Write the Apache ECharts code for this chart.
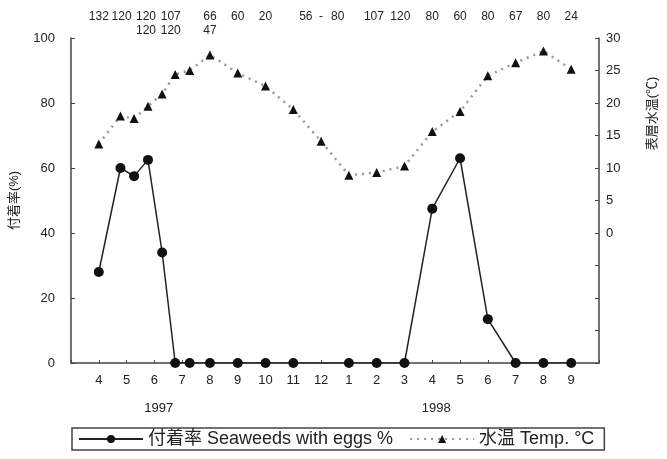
<!DOCTYPE html>
<html>
<head>
<meta charset="utf-8">
<script src="https://cdn.jsdelivr.net/npm/echarts@6/dist/echarts.min.js"></script>
<style>
  html, body { margin: 0; padding: 0; background: #fff; }
  #chart { width: 667px; height: 459px; }
</style>
</head>
<body>
<div id="chart"></div>
<script>
// x positions are month indexes counted from April 1997 (0) to September 1998 (17)
const monthLabels = ['4', '5', '6', '7', '8', '9', '10', '11', '12', '1', '2', '3', '4', '5', '6', '7', '8', '9'];
const yearX = [2.16, 12.14];
const yearLabels = ['1997', '1998'];

// 付着率 (%)
const pctX = [0, 0.78, 1.27, 1.77, 2.28, 2.75, 3.27, 4, 5, 6, 7, 9, 10, 11, 12, 13, 14, 15, 16, 17];
const pctVal = [28, 60, 57.5, 62.5, 34, 0, 0, 0, 0, 0, 0, 0, 0, 0, 47.5, 63, 13.5, 0, 0, 0];

// 水温 (℃)
const tempX = [0, 0.78, 1.27, 1.77, 2.28, 2.75, 3.27, 4, 5, 6, 7, 8, 9, 10, 11, 12, 13, 14, 15, 16, 17];
const tempVal = [13.7, 18.0, 17.6, 19.5, 21.4, 24.4, 25.0, 27.4, 24.6, 22.6, 19.0, 14.1, 8.9, 9.3, 10.3, 15.6, 18.7, 24.2, 26.2, 28.0, 25.2];

// sample numbers written above the chart
const nRow1X = [0, 0.82, 1.7, 2.59, 4, 5, 6, 7.45, 8.0, 8.6, 9.9, 10.85, 12, 13, 14, 15, 16, 17];
const nRow1 = ['132', '120', '120', '107', '66', '60', '20', '56', '-', '80', '107', '120', '80', '60', '80', '67', '80', '24'];
const nRow2X = [1.7, 2.59, 4];
const nRow2 = ['120', '120', '47'];

const FONT = 'Liberation Sans, Noto Sans CJK JP, sans-serif';
const INK = '#222';
const AXIS = '#444';

const chart = echarts.init(document.getElementById('chart'));

const baseX = { type: 'value', min: -1, max: 18, gridIndex: 0, splitLine: { show: false } };

chart.setOption({
  animation: false,
  textStyle: { fontFamily: FONT, color: INK },
  grid: { left: 71, right: 61, top: 38, bottom: 96 },
  legend: {
    left: 72,
    top: 428,
    padding: [2, 10, 2, 6],
    borderColor: AXIS,
    borderWidth: 1.5,
    itemWidth: 64,
    itemHeight: 10,
    itemGap: 16,
    textStyle: { fontFamily: FONT, fontSize: 18, color: INK },
    data: ['付着率 Seaweeds with eggs %', '水温 Temp. °C']
  },
  xAxis: [
    Object.assign({}, baseX, {
      position: 'bottom',
      interval: 1,
      axisLine: { onZero: false, lineStyle: { color: AXIS, width: 1.5 } },
      axisTick: { inside: true, length: 3, lineStyle: { color: AXIS } },
      axisLabel: {
        margin: 11,
        fontSize: 13,
        color: INK,
        formatter: v => (v >= 0 && v < monthLabels.length ? monthLabels[v] : '')
      }
    }),
    Object.assign({}, baseX, {
      position: 'bottom',
      axisLine: { show: false, onZero: false },
      axisTick: { show: false },
      axisLabel: {
        margin: 39,
        fontSize: 13,
        color: INK,
        customValues: yearX,
        formatter: (v, i) => yearLabels[yearX.indexOf(v)] ?? yearLabels[i]
      }
    }),
    Object.assign({}, baseX, {
      position: 'top',
      axisLine: { show: false, onZero: false },
      axisTick: { show: false },
      axisLabel: {
        margin: 15,
        fontSize: 12,
        color: INK,
        customValues: nRow1X,
        formatter: (v, i) => nRow1[nRow1X.indexOf(v)] ?? nRow1[i]
      }
    }),
    Object.assign({}, baseX, {
      position: 'top',
      axisLine: { show: false, onZero: false },
      axisTick: { show: false },
      axisLabel: {
        margin: 1,
        fontSize: 12,
        color: INK,
        customValues: nRow2X,
        formatter: (v, i) => nRow2[nRow2X.indexOf(v)] ?? nRow2[i]
      }
    })
  ],
  yAxis: [
    {
      type: 'value',
      min: 0,
      max: 100,
      interval: 20,
      name: '付着率(%)',
      nameLocation: 'middle',
      nameRotate: 90,
      nameGap: 50,
      nameTextStyle: { fontSize: 13, color: INK },
      splitLine: { show: false },
      axisLine: { show: true, onZero: false, lineStyle: { color: AXIS, width: 1.5 } },
      axisTick: { show: true, inside: true, length: 4, lineStyle: { color: AXIS } },
      axisLabel: { margin: 16, fontSize: 13, color: INK }
    },
    {
      type: 'value',
      position: 'right',
      min: -20,
      max: 30,
      interval: 5,
      name: '表層水温(℃)',
      nameLocation: 'middle',
      nameRotate: 90,
      nameGap: 47,
      nameTextStyle: { fontSize: 13, color: INK, padding: [0, 0, 0, 174] },
      splitLine: { show: false },
      axisLine: { show: true, onZero: false, lineStyle: { color: AXIS, width: 1.5 } },
      axisTick: { show: true, inside: true, length: 4, lineStyle: { color: AXIS } },
      axisLabel: { margin: 7, fontSize: 13, color: INK, formatter: v => (v >= 0 ? String(v) : '') }
    }
  ],
  series: [
    {
      name: '付着率 Seaweeds with eggs %',
      type: 'line',
      xAxisIndex: 0,
      yAxisIndex: 0,
      data: pctX.map((x, i) => [x, pctVal[i]]),
      symbol: 'circle',
      symbolSize: 10,
      itemStyle: { color: '#111' },
      lineStyle: { color: '#222', width: 1.5 },
      z: 3
    },
    {
      name: '水温 Temp. °C',
      type: 'line',
      xAxisIndex: 0,
      yAxisIndex: 1,
      data: tempX.map((x, i) => [x, tempVal[i]]),
      symbol: 'triangle',
      symbolSize: 9,
      itemStyle: { color: '#111' },
      lineStyle: { color: '#999', width: 2.5, type: [2, 5] },
      z: 2
    }
  ]
});
</script>
</body>
</html>
